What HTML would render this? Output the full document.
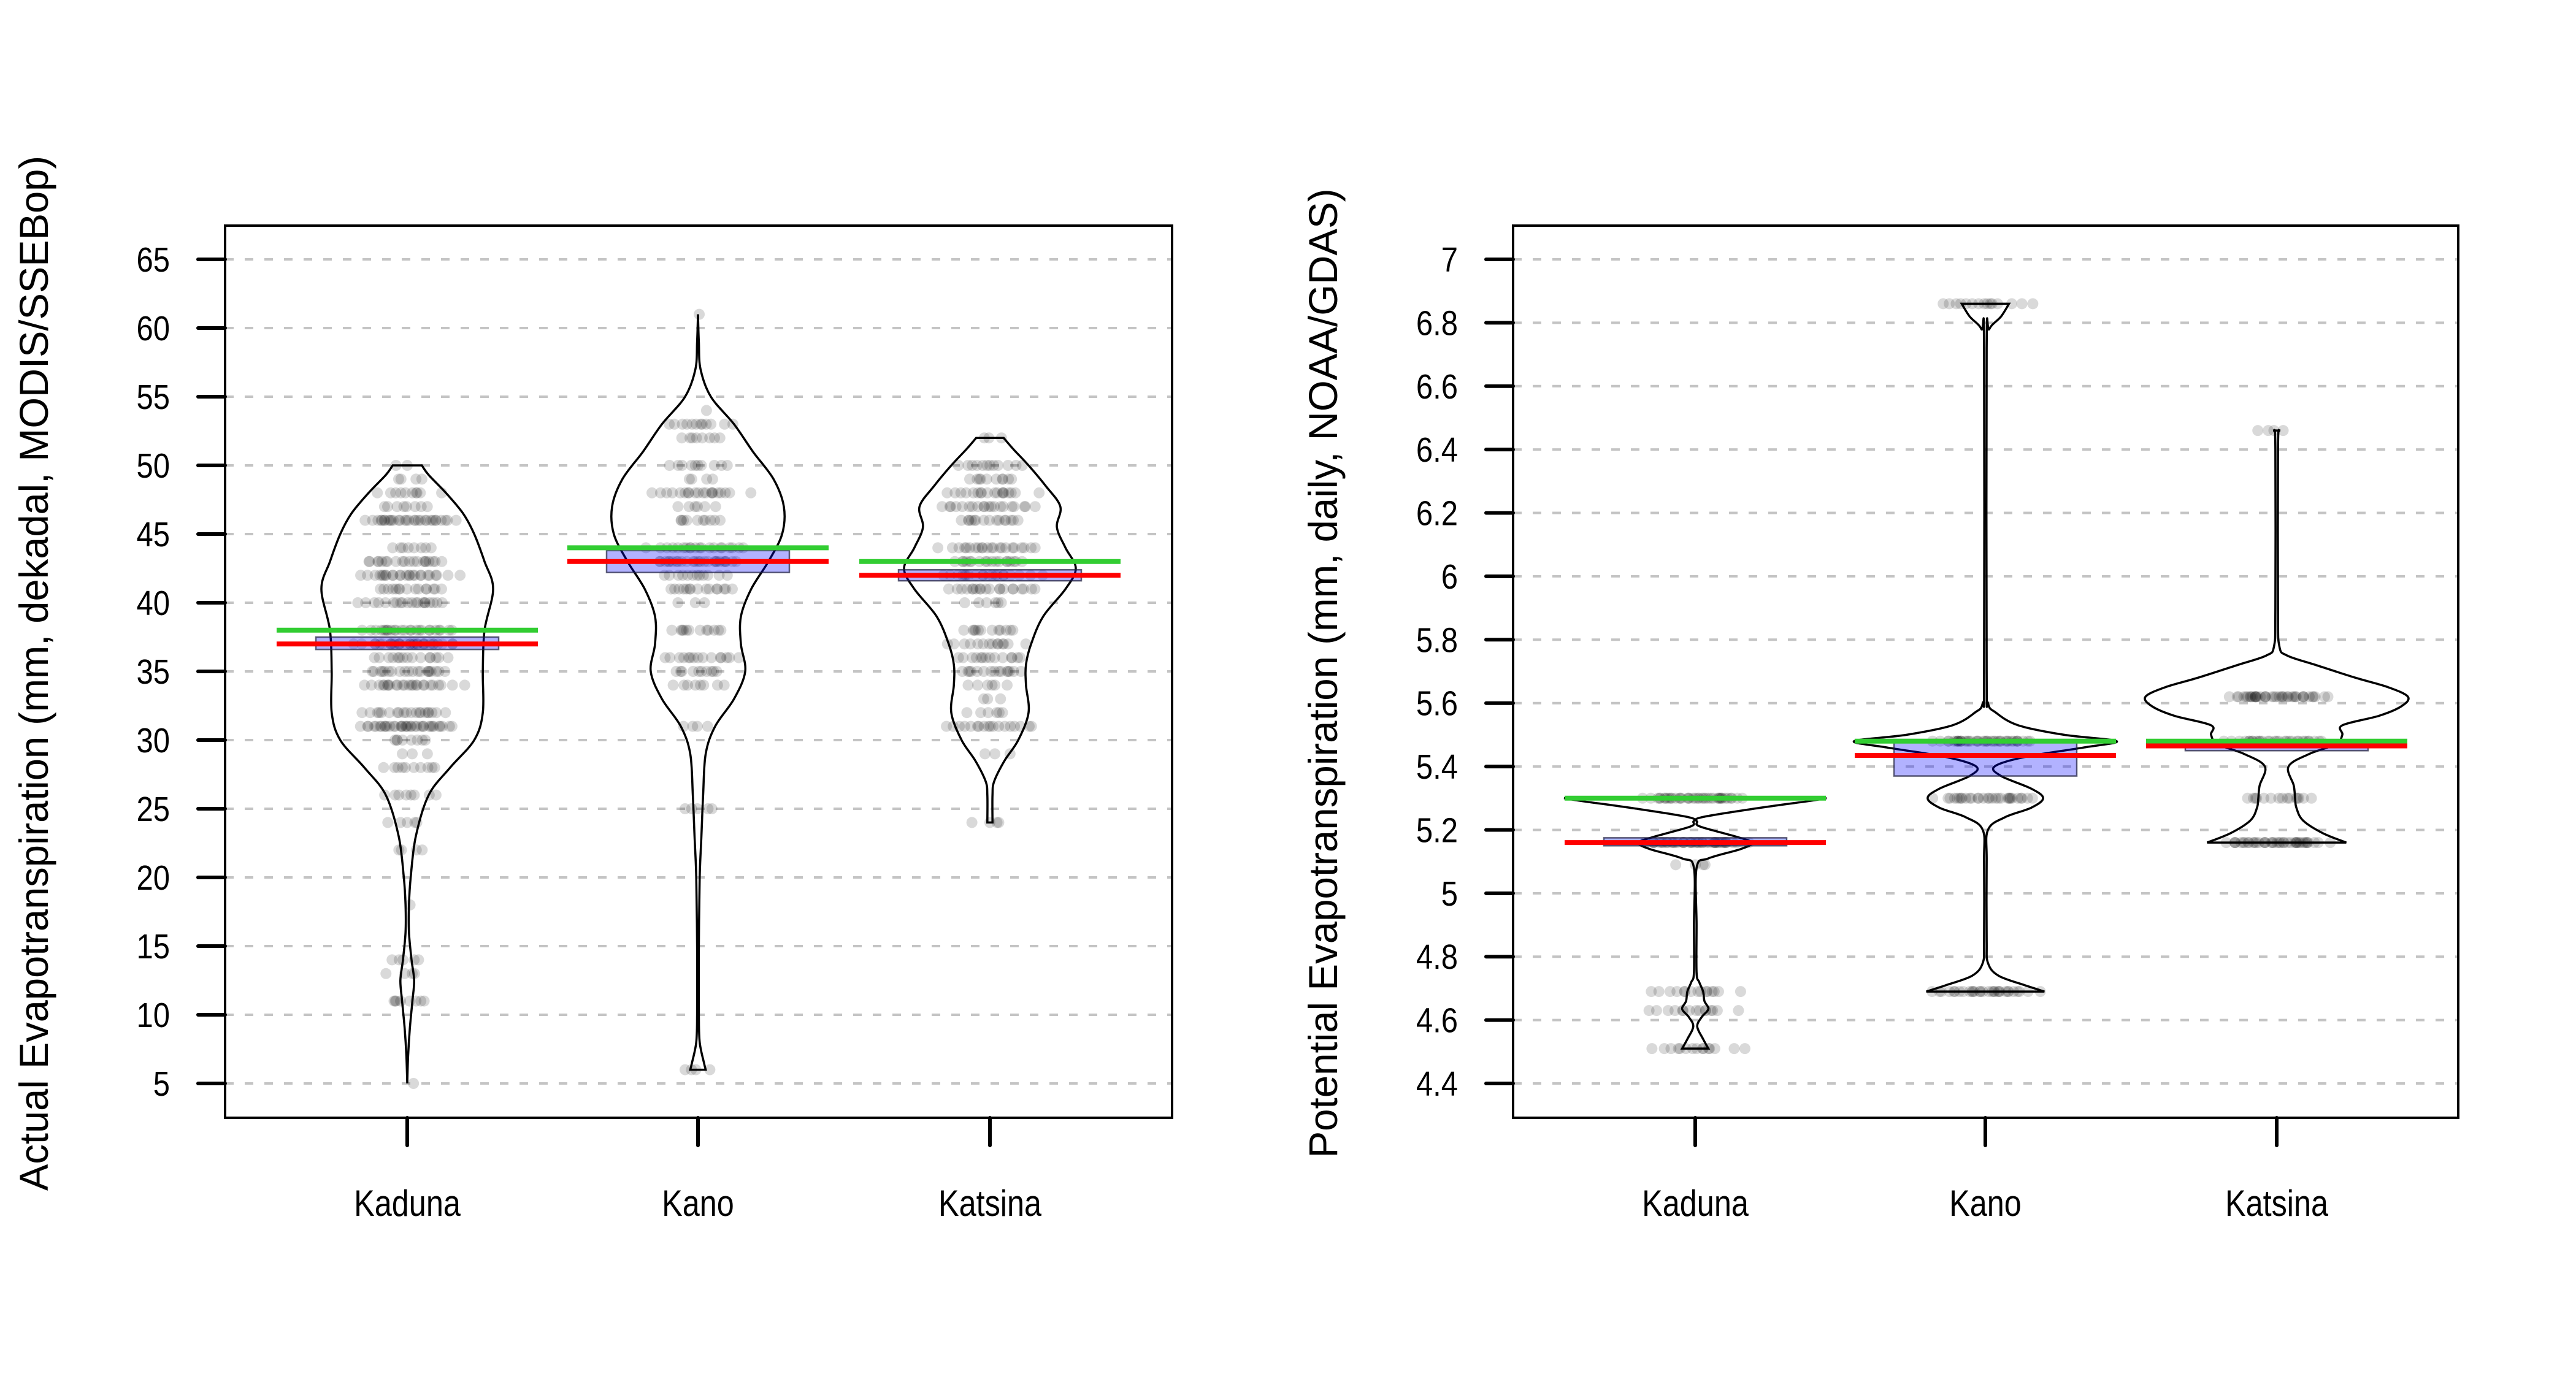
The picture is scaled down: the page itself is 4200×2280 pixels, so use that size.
<!DOCTYPE html>
<html><head><meta charset="utf-8">
<style>
html,body{margin:0;padding:0;background:#fff;}
svg{display:block;}
text{font-family:"Liberation Sans",sans-serif;fill:#000;}
</style></head>
<body>
<svg id="chart" width="4200" height="2280" viewBox="0 0 4200 2280" xmlns="http://www.w3.org/2000/svg">
<rect width="4200" height="2280" fill="#fff"/>
</svg>
<script>
// ---------- DATA ----------
const categories = ["Kaduna","Kano","Katsina"];
// Left panel: Actual ET
const aetTicks = [5,10,15,20,25,30,35,40,45,50,55,60,65];
const aetMean = [38,44,43];
const aetMedian = [37,43,42];
const aetBoxLo = [36.6,42.2,41.6];
const aetBoxHi = [37.5,43.8,42.4];
const aetViolinKaduna = [[5,0],[7,0.01],[9,0.03],[11,0.06],[12.5,0.08],[14,0.05],[16,0.02],[18,0.02],[20,0.04],[23,0.1],[26,0.25],[28,0.5],[30,0.78],[32,0.88],[35,0.88],[38,0.9],[41,1.0],[43,0.9],[45,0.78],[46.5,0.65],[48,0.45],[49.3,0.25],[50,0.17]];
const aetViolinKano = [[6,0.09],[6.5,0.07],[8,0.02],[10,0.01],[15,0.01],[20,0.02],[23,0.04],[26,0.06],[29,0.09],[31,0.2],[33,0.42],[35,0.55],[37,0.5],[39,0.5],[41,0.62],[43,0.82],[45,0.98],[47,1.0],[49,0.88],[51,0.64],[53,0.42],[55,0.15],[57,0.03],[59,0.01],[61,0]];
const aetViolinKatsina = [[24,0.03],[26,0.03],[27,0.05],[28.5,0.17],[30,0.33],[32,0.45],[34,0.42],[35.5,0.42],[37,0.48],[39,0.62],[41,0.88],[42.5,1.0],[44,0.88],[45.5,0.78],[47,0.82],[48.5,0.65],[50,0.45],[51.2,0.27],[52,0.16]];
const aetPointsKaduna = [[50,2],[49,4],[48,10],[47,8],[46,30],[44,8],[43,20],[42,25],[41,15],[40,20],[38,25],[37,30],[36,15],[35,20],[34,25],[32,20],[31,35],[30,8],[29,3],[28,10],[26,8],[24,5],[22,4],[18,1],[14,5],[13,4],[11,8],[5,1]];
const aetPointsKano = [[61,1],[54,1],[53,12],[52,8],[50,10],[49,4],[48,20],[47,6],[46,10],[44,20],[43,25],[42,12],[41,15],[40,3],[38,12],[36,15],[35,10],[34,8],[31,4],[25,5],[6,4]];
const aetPointsKatsina = [[52,3],[50,12],[49,10],[48,18],[47,20],[46,15],[44,22],[43,18],[42,20],[41,20],[40,6],[38,12],[37,14],[36,14],[35,15],[34,6],[33,3],[32,6],[31,18],[29,3],[24,4]];
// Right panel: Potential ET
const petTicks = [4.4,4.6,4.8,5,5.2,5.4,5.6,5.8,6,6.2,6.4,6.6,6.8,7];
const petMean = [5.30,5.48,5.48];
const petMedian = [5.16,5.435,5.465];
const petBoxLo = [5.15,5.37,5.45];
const petBoxHi = [5.175,5.485,5.48];
const petViolinKaduna = [[4.51,0.1],[4.54,0.06],[4.58,0.015],[4.61,0.05],[4.635,0.1],[4.66,0.07],[4.69,0.06],[4.72,0.03],[4.75,0.01],[4.9,0.01],[5.08,0.01],[5.11,0.1],[5.14,0.35],[5.16,0.43],[5.18,0.3],[5.21,0.04],[5.225,0.015],[5.24,0.05],[5.27,0.5],[5.29,0.85],[5.30,1.0]];
const petViolinKano = [[4.69,0.45],[4.71,0.3],[4.74,0.1],[4.78,0.02],[4.85,0.01],[5.1,0.01],[5.2,0.02],[5.24,0.15],[5.27,0.35],[5.3,0.44],[5.33,0.35],[5.37,0.12],[5.4,0.07],[5.43,0.3],[5.46,0.75],[5.48,1.0],[5.5,0.6],[5.53,0.25],[5.57,0.08],[5.6,0.02],[5.7,0.01],[6.72,0.01],[6.78,0.03],[6.82,0.12],[6.86,0.18]];
const petViolinKatsina = [[5.16,0.53],[5.19,0.35],[5.23,0.2],[5.27,0.15],[5.3,0.14],[5.34,0.13],[5.4,0.09],[5.44,0.25],[5.47,0.45],[5.5,0.5],[5.53,0.5],[5.56,0.78],[5.59,0.95],[5.62,1.0],[5.65,0.85],[5.68,0.6],[5.72,0.3],[5.75,0.08],[5.78,0.02],[5.9,0.01],[6.4,0.01],[6.46,0.02]];
const petPointsKaduna = [[5.30,40],[5.16,40],[5.09,4],[4.69,15],[4.63,15],[4.51,15]];
const petPointsKano = [[6.86,15],[5.48,40],[5.30,30],[4.69,30]];
const petPointsKatsina = [[6.46,4],[5.62,40],[5.48,30],[5.30,15],[5.16,40]];

// ---------- LAYOUT ----------
const NS="http://www.w3.org/2000/svg";
const svg=document.getElementById('chart');
function mk(tag,attrs,parent){const e=document.createElementNS(NS,tag);for(const k in attrs)e.setAttribute(k,attrs[k]);(parent||svg).appendChild(e);return e;}

function panel(cfg){
  const g=mk('g',{});
  
  
  const L=cfg.left,R=cfg.right,T=368,B=1823;
  const y=v=>cfg.y0px+(v-cfg.v0)*(cfg.y1px-cfg.y0px)/(cfg.v1-cfg.v0);
  const xs=cfg.xs;
  cfg.ticks.forEach((t,i)=>{
    const gl=mk('line',{x1:L,x2:R,y1:y(t),y2:y(t),stroke:'#c4c4c4','stroke-width':4,'stroke-dasharray':'14 18'},g);
    
    
  });
  const pg=mk('g',{},g);
  
  
  cfg.points.forEach((arr,ci)=>{
    arr.forEach(([v,n])=>{
      for(let k=0;k<n;k++){
        const f=((k*0.6180339+v*0.37)%1);
        const spread=cfg.jit*(0.3+0.7*Math.min(1,n/20));
        const dx=(f*2-1)*spread*(0.45+0.55*((k*0.414)%1));
        const c=mk('circle',{cx:xs[ci]+dx,cy:y(v),r:9,fill:'rgba(0,0,0,0.15)'},pg);
        
        
      }
    });
  });
  cfg.violins.forEach((arr,ci)=>{
    const cx=xs[ci];
    const right=arr.map(([v,d])=>[cx+d*cfg.maxHalf,y(v)]);
    const left=arr.slice().reverse().map(([v,d])=>[cx-d*cfg.maxHalf,y(v)]);
    function smooth(p){let s='';for(let i=0;i<p.length-1;i++){const p0=p[i-1]||p[i],p1=p[i],p2=p[i+1],p3=p[i+2]||p[i+1];
      const c1=[p1[0]+(p2[0]-p0[0])/6,p1[1]+(p2[1]-p0[1])/6],c2=[p2[0]-(p3[0]-p1[0])/6,p2[1]-(p3[1]-p1[1])/6];
      s+=` C${c1[0]},${c1[1]} ${c2[0]},${c2[1]} ${p2[0]},${p2[1]}`;}return s;}
    let d=`M${right[0][0]},${right[0][1]}`+smooth(right)+` L${left[0][0]},${left[0][1]}`+smooth(left)+' Z';
    const p=mk('path',{d:d,fill:'none',stroke:'#000','stroke-width':3.5},g);
    
    
  });
  categories.forEach((c,ci)=>{
    const cx=xs[ci];
    const bx=mk('rect',{x:cx-149,y:y(cfg.boxHi[ci]),width:298,height:Math.max(2,y(cfg.boxLo[ci])-y(cfg.boxHi[ci])),fill:'rgba(0,0,255,0.3)',stroke:'rgba(30,30,60,0.7)','stroke-width':2.5},g);
    
    
    const gm=mk('line',{x1:cx-213,x2:cx+213,y1:y(cfg.mean[ci]),y2:y(cfg.mean[ci]),stroke:'#32cd32','stroke-width':8},g);
    
    
    const rm=mk('line',{x1:cx-213,x2:cx+213,y1:y(cfg.median[ci]),y2:y(cfg.median[ci]),stroke:'#ff0000','stroke-width':8},g);
    
    
  });
  const fr=mk('rect',{x:L,y:T,width:R-L,height:B-T,fill:'none',stroke:'#000','stroke-width':4},g);
  
  
  cfg.ticks.forEach((t,i)=>{
    const tk=mk('line',{x1:L-44,x2:L,y1:y(t),y2:y(t),stroke:'#000','stroke-width':6,'stroke-linecap':'round'},g);
    
    
    const tx=mk('text',{transform:`translate(${L-90},${y(t)+20}) scale(0.86,1)`,'font-size':57,'text-anchor':'end'},g);
    tx.textContent=String(t);
    
    
  });
  categories.forEach((c,ci)=>{
    const tk=mk('line',{x1:xs[ci],x2:xs[ci],y1:B,y2:B+45,stroke:'#000','stroke-width':6,'stroke-linecap':'round'},g);
    
    
    const tx=mk('text',{transform:`translate(${xs[ci]},1983) scale(0.84,1)`,'font-size':60,'text-anchor':'middle'},g);
    tx.textContent=c;
    
    
  });
  const tt=mk('text',{transform:`translate(${cfg.titleX},${cfg.titleY}) rotate(-90)`,'font-size':66,'text-anchor':'middle',textLength:cfg.titleLen,lengthAdjust:'spacingAndGlyphs'},g);
  tt.textContent=cfg.title;
  
  
}

panel({name:'aet-panel',left:367,right:1911,xs:[664,1138,1614],v0:5,v1:65,y0px:1767,y1px:423,ticks:aetTicks,
  violins:[aetViolinKaduna,aetViolinKano,aetViolinKatsina],points:[aetPointsKaduna,aetPointsKano,aetPointsKatsina],
  mean:aetMean,median:aetMedian,boxLo:aetBoxLo,boxHi:aetBoxHi,maxHalf:140,jit:96,
  title:'Actual Evapotranspiration (mm, dekadal, MODIS/SSEBop)',titleX:78,titleY:1098,titleLen:1688});
panel({name:'pet-panel',left:2467,right:4008,xs:[2764,3237,3712],v0:4.4,v1:7,y0px:1767,y1px:423,ticks:petTicks,
  violins:[petViolinKaduna,petViolinKano,petViolinKatsina],points:[petPointsKaduna,petPointsKano,petPointsKatsina],
  mean:petMean,median:petMedian,boxLo:petBoxLo,boxHi:petBoxHi,maxHalf:214,jit:105,
  title:'Potential Evapotranspiration (mm, daily, NOAA/GDAS)',titleX:2180,titleY:1098,titleLen:1581});
</script>
</body></html>
